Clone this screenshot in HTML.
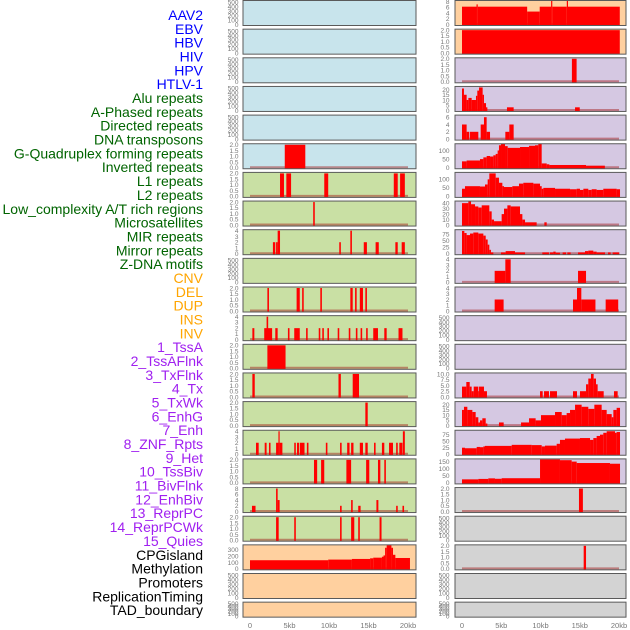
<!DOCTYPE html>
<html><head><meta charset="utf-8"><style>
body{margin:0;background:#fff;}
svg{display:block;font-family:"Liberation Sans",sans-serif;}
</style></head><body>
<svg id="chart" width="630" height="630" viewBox="0 0 630 630" xmlns="http://www.w3.org/2000/svg"></svg>
<script>
// ---- labels ----
const labelNames = ["AAV2","EBV","HBV","HIV","HPV","HTLV-1","Alu repeats","A-Phased repeats","Directed repeats","DNA transposons","G-Quadruplex forming repeats","Inverted repeats","L1 repeats","L2 repeats","Low_complexity A/T rich regions","Microsatellites","MIR repeats","Mirror repeats","Z-DNA motifs","CNV","DEL","DUP","INS","INV","1_TssA","2_TssAFlnk","3_TxFlnk","4_Tx","5_TxWk","6_EnhG","7_Enh","8_ZNF_Rpts","9_Het","10_TssBiv","11_BivFlnk","12_EnhBiv","13_ReprPC","14_ReprPCWk","15_Quies","CPGisland","Methylation","Promoters","ReplicationTiming","TAD_boundary"];
const labelGroups = [6,13,5,15,5];
const groupColors = ["#0000ff","#006400","#ffa500","#a020f0","#000000"];
const xTicks = [0,5,10,15,20];
const xTickLabels = ["0","5kb","10kb","15kb","20kb"];

// ---- track data: [startKb, endKb, value] ----
const L6=[[4.4,7.0,2]];
const L7=[[3.8,4.3,2],[4.6,5.2,2],[9.4,9.9,2],[18.2,18.7,2],[19.0,19.6,2]];
const L8=[[8.0,8.2,2]];
const L9=[[2.9,3.2,2],[3.3,3.5,2],[3.5,3.8,4],[11.3,11.5,2],[12.7,12.9,4],[14.4,14.8,2],[15.9,16.3,2],[18.4,18.7,2],[19.2,19.6,2]];
const L11=[[2.2,2.4,2],[5.9,6.3,2],[6.6,6.8,2],[8.9,9.1,2],[12.7,13.0,2],[13.3,13.5,2],[13.9,14.3,2],[14.6,14.8,2]];
const L12=[[0.3,0.55,2],[1.8,2.8,2],[2.1,2.3,4],[3.2,3.5,2],[4.8,5.0,2],[5.6,6.3,2],[7.1,7.3,2],[8.7,8.9,2],[9.15,9.35,2],[9.8,10.0,2],[11.1,11.3,2],[12.5,12.7,2],[13.4,13.6,2],[14.0,14.2,2],[14.7,14.9,2],[15.6,16.2,2],[17.0,17.3,2],[18.8,19.3,2]];
const L13=[[2.2,4.5,2]];
const L14=[[0.3,0.6,2],[11.2,11.5,2],[13.0,13.8,2]];
const L15=[[14.6,14.9,2]];
const L16=[[0.76,1.1,2],[1.86,2.1,2],[2.4,2.6,2],[3.3,3.6,2],[3.6,3.75,4],[3.75,4.1,2],[5.6,5.8,2],[5.95,6.2,2],[6.3,6.9,2],[7.2,7.4,2],[9.6,9.8,2],[11.4,11.6,2],[12.3,12.6,2],[12.8,13.1,2],[13.9,14.3,2],[14.6,14.9,2],[15.7,15.9,2],[16.7,17.0,2],[17.6,18.1,2],[18.5,18.7,2],[18.9,19.3,2],[19.35,19.6,4]];
const L17=[[8.1,8.5,2],[9.0,9.4,2],[12.2,12.8,2],[14.7,15.1,2],[16.2,16.5,2],[17.0,17.2,2]];
const L18=[[0.25,0.7,2],[3.3,3.5,8],[3.5,3.75,4],[11.4,11.6,2],[12.8,13.0,4],[13.7,14.0,2],[16.0,16.25,4],[18.5,18.7,2],[19.3,19.5,2]];
const L19=[[3.3,3.63,2],[5.6,5.8,2],[11.4,11.6,2],[12.8,13.2,2],[13.7,13.9,2],[16.4,16.65,2]];
const L20=[[0,9.9,135],[9.9,12.9,145],[12.9,15.2,155],[15.2,15.6,165],[15.6,16.7,175],[16.7,16.9,190],[16.9,17.1,210],[17.1,17.3,330],[17.3,17.9,370],[17.9,18.1,330],[18.1,18.4,220],[18.4,20.25,170]];

const R1=[[0,1.85,6.2],[1.85,2.0,7],[2.0,8.3,6.2],[8.3,9.9,4.5],[9.9,11.35,6.2],[11.35,11.5,8.3],[11.5,13.35,6.2],[13.35,13.5,8.3],[13.5,20.1,6.2]];
const R2=[[0,20.1,2]];
const R3=[[14.0,14.6,2]];
const R4=[[0,0.25,21],[0.25,0.59,15],[0.59,0.81,10],[0.81,1.23,12],[1.23,1.78,10],[1.78,1.95,14],[1.95,2.17,19],[2.17,2.63,22],[2.63,2.8,15],[2.8,3.06,7],[3.06,3.23,3],[5.73,6.58,3],[14.4,15.0,3]];
const R5=[[0,0.59,4],[0.59,0.93,2],[1.02,2.08,2],[2.38,2.8,4],[2.8,3.14,6],[3.14,3.57,2],[5.52,6.03,2],[6.03,6.58,4]];
const R6=[[0,0.59,37],[0.59,2.29,42],[2.29,2.72,50],[2.72,3.14,60],[3.14,3.57,68],[3.57,3.99,65],[3.99,4.29,72],[4.29,4.54,80],[4.54,4.71,100],[4.71,4.97,130],[4.97,5.48,138],[5.48,5.82,125],[5.82,7.39,115],[7.39,8.54,120],[8.54,9.3,127],[9.3,9.72,130],[9.72,10.15,138],[10.15,10.79,25],[10.79,11.13,20],[11.13,15.8,16],[15.8,18.2,12]];
const R7=[[0,0.38,45],[0.38,2.29,60],[2.29,2.93,58],[2.93,3.27,70],[3.27,3.48,100],[3.48,4.29,135],[4.29,4.71,110],[4.71,5.14,80],[5.14,5.35,60],[5.35,6.41,55],[6.41,7.26,60],[7.26,7.81,75],[7.81,9.09,80],[9.09,9.94,75],[9.94,10.15,60],[10.15,10.36,45],[10.36,11.85,50],[11.85,13.76,45],[13.76,14.61,42],[14.61,15.03,45],[15.03,15.46,38],[15.46,16.09,45],[16.09,16.52,38],[16.52,17.15,42],[17.15,18.0,38],[18.0,19.7,45],[19.7,20.13,42]];
const R8=[[0,0.81,40],[0.81,1.15,44],[1.15,1.66,38],[1.66,2.08,34],[2.08,2.51,32],[2.51,3.48,36],[3.48,3.78,25],[3.78,4.08,10],[4.08,5.05,7],[5.05,5.35,20],[5.35,5.78,30],[5.78,6.2,36],[6.2,7.39,34],[7.39,7.69,20],[7.69,8.03,10],[8.03,9.51,5],[10.49,10.79,5]];
const R9=[[0,0.3,88],[0.3,0.59,80],[0.59,1.02,72],[1.02,1.44,78],[1.44,2.08,82],[2.08,2.72,78],[2.72,3.02,70],[3.02,3.27,55],[3.27,3.48,35],[3.48,3.69,15],[3.69,3.99,5],[4.97,5.56,5],[5.56,6.75,10],[6.75,8.03,5],[10.23,11.08,5],[11.21,11.63,5],[11.63,11.93,8],[11.93,12.48,4],[12.82,13.25,5],[13.42,13.84,5],[14.78,15.67,5],[15.67,16.09,10],[16.09,16.73,12],[16.73,17.15,8],[17.15,18.22,5],[18.6,18.94,5],[19.19,20.04,5]];
const R10=[[4.16,5.52,2],[5.52,6.2,4],[14.78,15.8,2]];
const R11=[[4.16,5.3,2],[14.14,14.65,2],[14.65,15.2,4],[15.2,17.0,2],[18.3,19.9,2]];
const R14=[[0,0.55,4.5],[0.55,0.98,6.5],[0.98,1.23,4.5],[1.23,1.49,2.5],[1.49,2.08,4.5],[2.08,2.17,2.5],[2.17,2.8,4.5],[2.8,3.18,2.5],[9.94,10.28,2.5],[10.45,11.08,2.5],[11.21,12.1,2.5],[14.14,14.65,2.5],[15.03,15.8,2.5],[15.8,16.09,5.5],[16.09,16.43,8],[16.43,16.77,10],[16.77,17.07,8],[17.07,17.28,5.5],[17.28,18.05,2.5],[19.36,19.83,2.5]];
const R15=[[0,0.25,15],[0.25,0.68,18],[0.68,1.32,15],[1.32,1.74,13],[1.74,2.08,8],[2.08,2.29,3],[2.29,2.59,5],[2.59,3.02,7],[3.02,3.23,2],[4.71,5.31,3],[7.52,8.54,3],[8.54,9.38,7],[9.38,10.06,5],[10.06,11.85,10],[11.85,12.7,13],[12.7,13.33,10],[13.33,13.76,12],[13.76,14.4,15],[14.4,15.24,20],[15.24,16.09,18],[16.09,16.86,16],[16.86,17.79,20],[17.79,18.43,15],[18.43,19.07,11],[19.07,19.28,8],[19.28,19.7,15],[19.7,20.13,17]];
const R16=[[0,0.38,25],[0.38,1.87,23],[1.87,2.29,28],[2.29,2.72,27],[2.72,2.93,30],[2.93,6.33,32],[6.33,8.88,36],[8.88,10.15,35],[10.15,10.57,30],[10.57,12.06,33],[12.06,12.48,40],[12.48,13.12,55],[13.12,15.03,60],[15.03,16.31,62],[16.31,16.73,55],[16.73,17.15,62],[17.15,17.58,70],[17.58,18.0,75],[18.0,18.43,82],[18.43,19.49,88],[19.49,19.7,82],[19.7,20.13,85]];
const R17=[[0,2.08,25],[2.08,3.35,28],[3.35,4.2,32],[4.2,5.05,29],[5.05,9.94,33],[9.94,12.48,165],[12.48,13.97,160],[13.97,14.61,150],[14.61,18.85,140],[18.85,20.13,135]];
const R18=[[14.9,15.4,2]];
const R20=[[15.5,15.8,2]];

// ---- axis tick label arrays ----
const tEmpty=[0,100,200,300,400,500];
const t2=[0,0.5,1.0,1.5,2.0];
const t4=[0,1,2,3,4];
const t8=[0,2,4,6,8];

// panels: [data, ticks, yTop, fill, tickDecimals]
const BLUE="#c8e4ec",GREEN="#c9e0a4",ORANGE="#ffd09f",PURPLE="#d5c8e2",GREY="#d3d3d3";
const leftPanels=[
 [null,tEmpty,520,BLUE,0],[null,tEmpty,520,BLUE,0],[null,tEmpty,520,BLUE,0],[null,tEmpty,520,BLUE,0],[null,tEmpty,520,BLUE,0],
 [L6,t2,2,BLUE,1],[L7,t2,2,GREEN,1],[L8,t2,2,GREEN,1],[L9,t4,4,GREEN,0],[null,tEmpty,520,GREEN,0],
 [L11,t2,2,GREEN,1],[L12,t4,4,GREEN,0],[L13,t2,2,GREEN,1],[L14,t2,2,GREEN,1],[L15,t2,2,GREEN,1],
 [L16,t4,4,GREEN,0],[L17,t2,2,GREEN,1],[L18,t8,8,GREEN,0],[L19,t2,2,GREEN,1],[L20,[0,100,200,300],360,ORANGE,0],
 [null,tEmpty,520,ORANGE,0],[null,tEmpty,520,ORANGE,0]
];
const rightPanels=[
 [R1,t8,8.0,ORANGE,0],[R2,t2,2,ORANGE,1],[R3,t2,2,PURPLE,1],[R4,[0,5,10,15,20],22,PURPLE,0],[R5,[0,2,4,6],6.3,PURPLE,0],
 [R6,[0,50,100],133,PURPLE,0],[R7,[0,50,100],135,PURPLE,0],[R8,[0,10,20,30,40],42,PURPLE,0],[R9,[0,25,50,75],89,PURPLE,0],[R10,t4,4,PURPLE,0],
 [R11,t4,4,PURPLE,0],[null,tEmpty,520,PURPLE,0],[null,tEmpty,520,PURPLE,0],[R14,[0,2.5,5,7.5,10],10,PURPLE,1],[R15,[0,5,10,15,20],22,PURPLE,0],
 [R16,[0,25,50,75],88,PURPLE,0],[R17,[0,50,100,150],162,PURPLE,0],[R18,t2,2,GREY,1],[null,tEmpty,520,GREY,0],[R20,t2,2,GREY,1],
 [null,tEmpty,520,GREY,0],[null,tEmpty,520,GREY,0]
];

const NS="http://www.w3.org/2000/svg";
const svg=document.getElementById('chart');
function mk(tag,attrs,parent){const e=document.createElementNS(NS,tag);for(const k in attrs)e.setAttribute(k,attrs[k]);(parent||svg).appendChild(e);return e;}

// labels
let li=0;
const labelsG=mk('g',{});


labelGroups.forEach((n,g)=>{for(let k=0;k<n;k++){const t=mk('text',{x:203,y:20+li*13.84,'text-anchor':'end','font-size':14,fill:groupColors[g]},labelsG);t.textContent=labelNames[li];


li++;}});

const PITCH=28.65;
function drawColumn(panels,x0,x1,xScale0,xScale1,tickX,side){
 const col=mk('g',{});
 
 
 const sx=kb=>xScale0+kb*(xScale1-xScale0)/20;
 panels.forEach((p,i)=>{
  const [data,ticks,yTop,fill,dec]=p;
  const T=i*PITCH+0.5;
  const last=(i===panels.length-1);
  const H=last?15:25;
  const base=T+H-1;
  const span=H-2;
  const sy=v=>base-v/yTop*span;
  const g=mk('g',{},col);
  
  
  const bg=mk('rect',{x:x0,y:T,width:x1-x0,height:H,fill:fill},g);
  
  
  if(data){
   const bl=mk('line',{x1:sx(0),x2:sx(20),y1:base-0.5,y2:base-0.5,stroke:'rgba(160,20,20,0.45)','stroke-width':2},g);
   
   
   data.forEach(d=>{
    const yy=Math.max(T,sy(d[2]));
    const r=mk('rect',{x:sx(d[0]),y:yy,width:Math.max(1.2,sx(d[1])-sx(d[0])),height:T+H-yy,fill:'#ff0000'},g);
    
    
   });
  }
  ticks.forEach(tv=>{
   const t=mk('text',{x:tickX,y:sy(tv)+2.3,'text-anchor':'end','font-size':6.5,fill:'#777'},g);
   t.textContent=dec?tv.toFixed(1):String(tv);
   
   
  });
  const br=mk('rect',{x:x0,y:T,width:x1-x0,height:H,fill:'none',stroke:'#5a5a5a','stroke-width':1},g);
  
  
 });
 xTicks.forEach((v,k)=>{
  const t=mk('text',{x:sx(v),y:628,'text-anchor':'middle','font-size':7.5,fill:'#777'},col);
  t.textContent=xTickLabels[k];
  
  
 });
}
drawColumn(leftPanels,243,416,250,408,238.5,'left');
drawColumn(rightPanels,455,626,462,619,449.5,'right');
</script>
</body></html>
